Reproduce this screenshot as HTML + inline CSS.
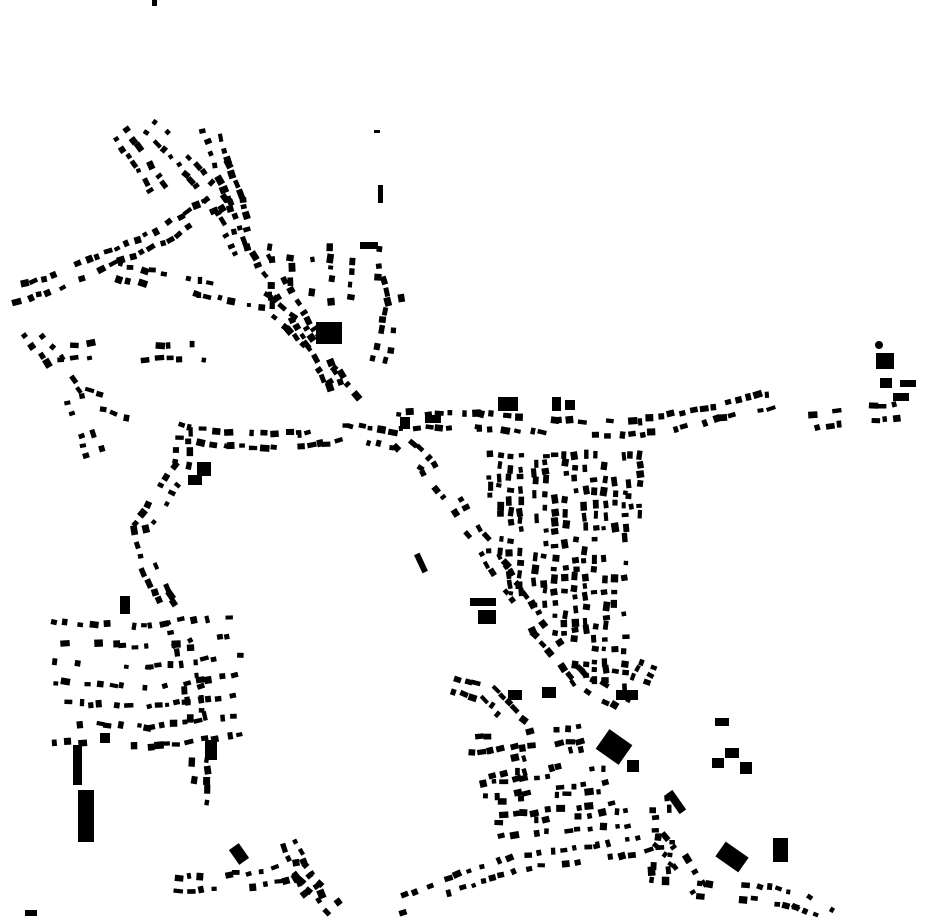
<!DOCTYPE html>
<html><head><meta charset="utf-8"><style>html,body{margin:0;padding:0;background:#fff}svg{display:block}</style></head>
<body>
<svg id="s" width="930" height="924" viewBox="0 0 930 924" xmlns="http://www.w3.org/2000/svg">
<g fill="#000">
<rect x="152" y="0" width="5" height="6"/>
<rect x="374" y="130" width="6" height="3"/>
<rect x="378" y="185" width="5" height="18"/>
<rect x="360" y="242" width="18" height="7"/>
<rect x="316" y="322" width="26" height="22"/>
<rect x="498" y="397" width="20" height="14"/>
<rect x="552" y="397" width="9" height="14"/>
<rect x="565" y="400" width="10" height="10"/>
<rect x="425" y="415" width="16" height="8"/>
<rect x="400" y="417" width="10" height="12"/>
<circle cx="879" cy="345" r="4"/>
<rect x="876" y="353" width="18" height="16"/>
<rect x="880" y="378" width="12" height="10"/>
<rect x="900" y="380" width="16" height="7"/>
<rect x="893" y="393" width="16" height="8"/>
<rect x="470" y="598" width="26" height="8"/>
<rect x="478" y="610" width="18" height="14"/>
<rect x="508" y="690" width="14" height="10"/>
<rect x="542" y="687" width="14" height="11"/>
<rect x="616" y="690" width="22" height="10"/>
<rect x="600" y="735" width="28" height="24" transform="rotate(35 614 747)"/>
<rect x="627" y="760" width="12" height="12"/>
<rect x="672" y="790" width="8" height="24" transform="rotate(-35 676 802)"/>
<rect x="718" y="848" width="28" height="18" transform="rotate(35 732 857)"/>
<rect x="773" y="838" width="15" height="24"/>
<rect x="73" y="745" width="9" height="40"/>
<rect x="78" y="790" width="16" height="52"/>
<rect x="205" y="740" width="12" height="20"/>
<rect x="100" y="733" width="10" height="10"/>
<rect x="233" y="845" width="12" height="18" transform="rotate(-35 239 854)"/>
<rect x="120" y="596" width="10" height="18"/>
<rect x="197" y="462" width="14" height="14"/>
<rect x="188" y="475" width="14" height="10"/>
<rect x="715" y="718" width="14" height="8"/>
<rect x="712" y="758" width="12" height="10"/>
<rect x="740" y="762" width="12" height="12"/>
<rect x="725" y="748" width="14" height="10"/>
<rect x="25" y="910" width="12" height="6"/>
<rect x="418" y="553" width="6" height="20" transform="rotate(-25 421 563)"/>
</g>
<g id="gen" fill="#000"></g>
</svg>
<script>
(function(){
var seed=12345;function r(){seed=(seed*1103515245+12345)&0x7fffffff;return seed/0x7fffffff;}
var g=document.getElementById('gen');var ns='http://www.w3.org/2000/svg';
function road(pts,step,off,both){
 for(var i=0;i<pts.length-1;i++){
  var a=pts[i],b=pts[i+1];var dx=b[0]-a[0],dy=b[1]-a[1];var L=Math.hypot(dx,dy);
  var ang=Math.atan2(dy,dx)*180/Math.PI;var nx=-dy/L,ny=dx/L;
  for(var t=0;t<L;t+=step*(0.7+r()*0.6)){
   var sides=both?[1,-1]:[1];
   for(var k=0;k<sides.length;k++){
    if(r()<0.3)continue;
    var s=sides[k];var cx=a[0]+dx*t/L+nx*off*s+(r()-.5)*3,cy=a[1]+dy*t/L+ny*off*s+(r()-.5)*3;
    var w=4+r()*5.5,h=4+r()*3.5;
    var e=document.createElementNS(ns,'rect');
    e.setAttribute('x',(cx-w/2).toFixed(1));e.setAttribute('y',(cy-h/2).toFixed(1));
    e.setAttribute('width',w.toFixed(1));e.setAttribute('height',h.toFixed(1));
    e.setAttribute('transform','rotate('+(ang+(r()-.5)*20).toFixed(1)+' '+cx.toFixed(1)+' '+cy.toFixed(1)+')');
    g.appendChild(e);
   }
  }
 }
}
var R=[
[[15,295],[60,280],[110,258],[165,235],[200,210],[240,190]],
[[122,135],[140,160],[158,190]],
[[140,118],[170,145],[200,180],[225,210],[245,260]],
[[210,128],[222,165],[235,200],[242,240]],
[[120,272],[200,288],[265,300],[295,325],[325,365],[355,405]],
[[260,252],[285,295],[315,345],[335,385]],
[[30,332],[55,360],[75,400],[95,455]],
[[60,352],[110,350]],[[88,398],[135,412]],[[145,352],[210,352]],
[[180,432],[230,440],[300,440],[350,432],[400,442],[430,468],[460,510],[500,570],[540,630],[580,680],[625,705]],
[[185,430],[180,470],[160,500],[140,530],[150,570],[170,610],[185,650],[195,700],[200,750],[200,805]],
[[400,420],[480,420],[560,428],[640,428],[720,412],[770,400]],
[[815,422],[860,415],[900,410]],
[[455,685],[490,695],[510,715],[525,730]],
[[470,745],[590,733]],[[478,770],[600,755]],[[485,790],[612,775]],[[492,810],[622,795]],[[500,830],[630,818]],
[[165,885],[250,880],[300,870],[335,910]],
[[400,905],[450,885],[520,862],[600,852],[660,842],[680,862],[700,890],[760,893],[800,900],[830,915]],
[[290,845],[305,880],[320,905]],
[[660,800],[665,840],[660,870],[660,895]],
[[380,360],[395,300],[390,268]],
[[640,680],[650,660]]
];
for(var i=0;i<R.length;i++)road(R[i],11,7,true);
var cols=[495,515,540,560,580,600,620,635];var ends=[560,600,620,640,680,690,690,520];
for(var c=0;c<cols.length;c++)road([[cols[c],455],[cols[c],ends[c]]],11,5,true);
var gc=[275,295,315,335,355,382];
for(var c=0;c<gc.length;c++)road([[gc[c],248],[gc[c],305]],11,4,false);
for(var y=618;y<=745;y+=20)road([[55,y],[150,y+5],[245,y-8]],11,4,false);
})();
</script>
</body></html>
